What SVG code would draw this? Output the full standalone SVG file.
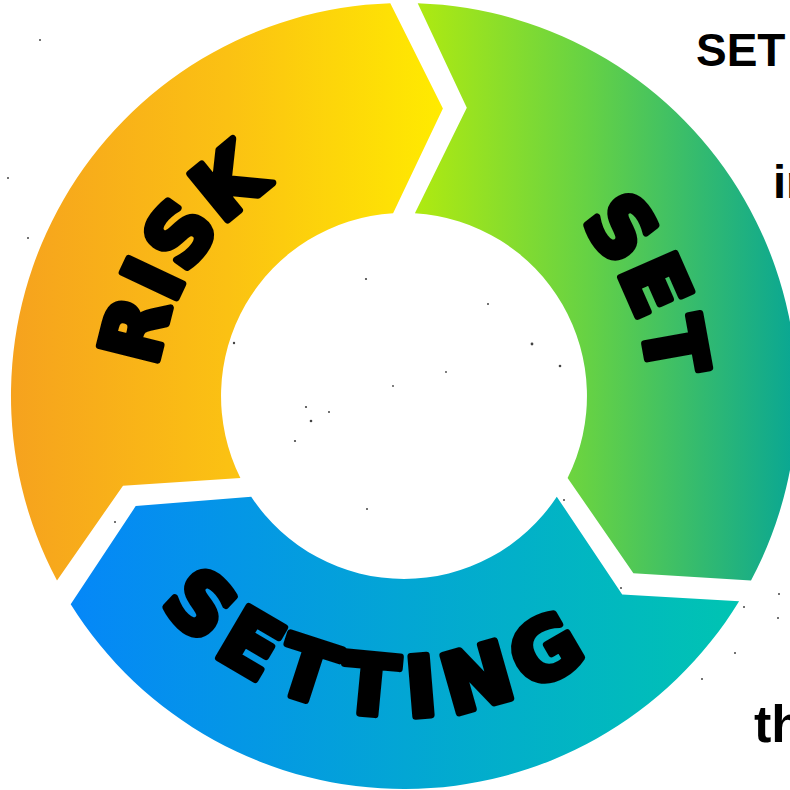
<svg xmlns="http://www.w3.org/2000/svg" width="790" height="790" viewBox="0 0 790 790">
  <defs>
    <linearGradient id="gY" x1="0" y1="0" x2="1" y2="0">
      <stop offset="0" stop-color="#F6A21E"/>
      <stop offset="0.5" stop-color="#FBC113"/>
      <stop offset="1" stop-color="#FFEB00"/>
    </linearGradient>
    <linearGradient id="gG" x1="0" y1="0" x2="1" y2="0">
      <stop offset="0" stop-color="#B0EA10"/>
      <stop offset="0.45" stop-color="#66D244"/>
      <stop offset="1" stop-color="#08A694"/>
    </linearGradient>
    <linearGradient id="gB" x1="0" y1="0" x2="1" y2="0">
      <stop offset="0" stop-color="#0587F8"/>
      <stop offset="0.5" stop-color="#03A6D4"/>
      <stop offset="1" stop-color="#00C4B2"/>
    </linearGradient>
    <path id="pRisk" d="M 236.8 579.1 A 248 248 0 0 1 498.5 166.7"/>
    <path id="pSet" d="M 344.1 157.4 A 246 246 0 0 1 541.9 599.7"/>
    <path id="pSetting" d="M 84.8 418.3 A 320 320 0 0 0 711.6 484.2"/>
    <style>
      .lbl { font-family: "DejaVu Sans", "Liberation Sans", sans-serif; font-weight: bold; font-size: 82px; fill: #000; stroke: #000; stroke-width: 7; stroke-linejoin: round; text-anchor: middle; }
      .side { font-family: "Liberation Sans", Arial, sans-serif; font-weight: bold; fill: #000; }
      .dust { fill: #444; }
    </style>
  </defs>
  <rect width="790" height="790" fill="#fff"/>

  <g id="risk">
    <path d="M 57.0 580.5 A 393 393 0 0 1 390.3 3.2 L 442.9 108.6 L 393.1 213.3 A 183 183 0 0 0 240.4 477.9 L 123.0 485.7 Z" fill="url(#gY)"/>
    <text class="lbl" letter-spacing="2"><textPath href="#pRisk" startOffset="50%">RISK</textPath></text>
  </g>

  <g id="set">
    <path d="M 417.7 3.2 A 393 393 0 0 1 751.0 580.5 L 633.4 573.3 L 567.6 477.9 A 183 183 0 0 0 414.9 213.3 L 466.8 107.8 Z" fill="url(#gG)"/>
    <text class="lbl" letter-spacing="2"><textPath href="#pSet" startOffset="50%">SET</textPath></text>
  </g>

  <g id="setting">
    <path d="M 739.1 601.3 A 393 393 0 0 1 70.7 604.3 L 135.7 506.1 L 251.2 496.7 A 183 183 0 0 0 556.8 496.7 L 622.2 594.5 Z" fill="url(#gB)"/>
    <text class="lbl" letter-spacing="13"><textPath href="#pSetting" startOffset="50%">SETTING</textPath></text>
  </g>

  <g id="connectors"></g>

  <g id="side-text">
    <text class="side" x="696" y="66" font-size="46">SET</text>
    <text class="side" x="773" y="198" font-size="47">in</text>
    <text class="side" x="754" y="742" font-size="52">th</text>
  </g>

  <g id="dust">
    <circle class="dust" cx="366" cy="279" r="1.1"/>
    <circle class="dust" cx="488" cy="304" r="1"/>
    <circle class="dust" cx="234" cy="343" r="1.2"/>
    <circle class="dust" cx="532" cy="344" r="1.4"/>
    <circle class="dust" cx="560" cy="366" r="1.3"/>
    <circle class="dust" cx="446" cy="372" r="0.9"/>
    <circle class="dust" cx="393" cy="386" r="0.9"/>
    <circle class="dust" cx="306" cy="407" r="1.1"/>
    <circle class="dust" cx="329" cy="412" r="1"/>
    <circle class="dust" cx="311" cy="421" r="1.3"/>
    <circle class="dust" cx="295" cy="441" r="1.1"/>
    <circle class="dust" cx="367" cy="509" r="1"/>
    <circle class="dust" cx="564" cy="500" r="1"/>
    <circle class="dust" cx="621" cy="588" r="1"/>
    <circle class="dust" cx="744" cy="607" r="1"/>
    <circle class="dust" cx="779" cy="594" r="1"/>
    <circle class="dust" cx="778" cy="618" r="1"/>
    <circle class="dust" cx="735" cy="653" r="1"/>
    <circle class="dust" cx="702" cy="679" r="1"/>
    <circle class="dust" cx="115" cy="522" r="1"/>
    <circle class="dust" cx="40" cy="40" r="1"/>
    <circle class="dust" cx="8" cy="178" r="1"/>
    <circle class="dust" cx="28" cy="238" r="1"/>
  </g>
</svg>
